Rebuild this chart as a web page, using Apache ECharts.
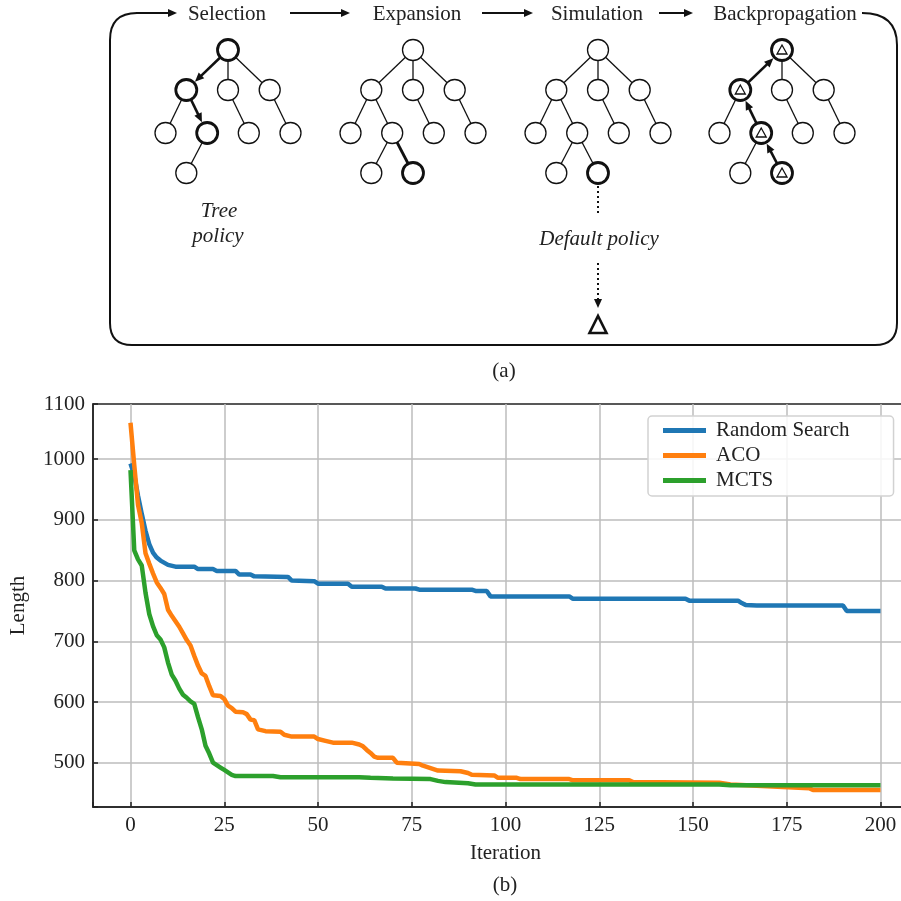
<!DOCTYPE html>
<html>
<head>
<meta charset="utf-8">
<script src="https://cdn.jsdelivr.net/npm/echarts@6/dist/echarts.min.js"></script>
<style>
  html, body { margin: 0; background: #fff; }
  #chart { width: 901px; height: 901px; }
</style>
</head>
<body>
<div id="chart"></div>
<script>
// best tour length found so far, as [iteration, length]
const randomSearch = [
  [0, 993], [1, 974], [2, 940], [3, 910], [4, 882], [5, 860], [6, 846], [7, 838], [8, 833],
  [10, 826], [12, 823], [17, 823], [18, 819], [22, 819], [23, 816], [28, 816], [29, 810],
  [32, 810], [33, 807], [42, 806], [43, 800], [49, 799], [50, 795], [58, 795], [59, 790],
  [67, 790], [68, 787], [76, 787], [77, 785], [91, 785], [92, 783], [95, 783], [96, 774],
  [117, 774], [118, 770], [148, 770], [149, 767], [162, 767], [163, 763], [164, 760],
  [167, 759], [190, 759], [191, 750], [200, 750]
];
const aco = [
  [0, 1060], [1, 990], [2, 925], [3, 895], [4, 845], [5, 828], [6, 812], [7, 797], [8, 788],
  [9, 778], [10, 752], [11, 742], [12, 733], [13, 724], [14, 713], [15, 702], [16, 693],
  [17, 676], [18, 660], [19, 647], [20, 643], [21, 626], [22, 611], [24, 610], [25, 605],
  [26, 594], [27, 590], [28, 584], [30, 583], [31, 580], [32, 571], [33, 570], [34, 555],
  [36, 552], [40, 551], [41, 546], [43, 543], [49, 543], [50, 539], [52, 536], [54, 533],
  [59, 533], [61, 530], [62, 527], [63, 521], [64, 516], [65, 510], [66, 508], [70, 508],
  [71, 500], [77, 498], [78, 495], [80, 491], [82, 487], [88, 486], [90, 483], [91, 480],
  [97, 479], [98, 475], [103, 475], [104, 473], [117, 473], [118, 471], [133, 471],
  [134, 468], [157, 467], [160, 464], [174, 460], [181, 458], [182, 455], [200, 455]
];
const mcts = [
  [0, 982], [1, 850], [2, 835], [3, 825], [4, 780], [5, 745], [6, 725], [7, 710], [8, 703],
  [9, 690], [10, 665], [11, 645], [12, 635], [13, 622], [14, 612], [15, 607], [16, 601],
  [17, 597], [18, 575], [19, 555], [20, 528], [21, 515], [22, 500], [23, 496], [24, 492],
  [25, 488], [26, 484], [27, 480], [28, 478], [38, 478], [40, 476], [61, 476], [64, 475],
  [70, 474], [80, 473], [82, 470], [84, 468], [90, 466], [92, 464], [157, 464], [160, 463],
  [200, 463]
];
const seriesNames = ['Random Search', 'ACO', 'MCTS'];
const seriesColors = ['#1f77b4', '#ff7f0e', '#2ca02c'];
const stageNames = ['Selection', 'Expansion', 'Simulation', 'Backpropagation'];

const FONT = '"Liberation Serif", "Times New Roman", serif';
const INK = '#111';
const R = 10.5;

// ---- panel (a): MCTS diagram ----
// node offsets relative to the tree root x, and absolute y
const nodeOffsets = [[0, 50], [-41.7, 90], [0, 90], [41.7, 90], [-62.5, 133], [-20.8, 133],
  [20.8, 133], [62.5, 133], [-41.7, 173], [0, 173]];
const treeEdges = [[0, 1], [0, 2], [0, 3], [1, 4], [1, 5], [2, 6], [3, 7], [5, 8], [5, 9]];
const stages = [
  { labelX: 227, rootX: 228, nodes: 9, bold: [0, 1, 5], arrows: [[0, 1], [1, 5]], thick: [] },
  { labelX: 417, rootX: 413, nodes: 10, bold: [9], arrows: [], thick: [[5, 9]] },
  { labelX: 597, rootX: 598, nodes: 10, bold: [9], arrows: [], thick: [] },
  { labelX: 785, rootX: 782, nodes: 10, bold: [0, 1, 5, 9], arrows: [[9, 5], [5, 1], [1, 0]], thick: [], marks: true }
];

function line(x1, y1, x2, y2, w, dash) {
  return { type: 'line', silent: true, shape: { x1, y1, x2, y2 },
    style: { stroke: INK, lineWidth: w, lineDash: dash || null } };
}
function head(tx, ty, ux, uy, len, half) {
  const bx = tx - ux * len, by = ty - uy * len;
  return { type: 'polygon', silent: true,
    shape: { points: [[tx, ty], [bx - uy * half, by + ux * half], [bx + uy * half, by - ux * half]] },
    style: { fill: INK } };
}
function arrow(x1, y1, x2, y2, w, dash) {
  const dx = x2 - x1, dy = y2 - y1, d = Math.hypot(dx, dy), ux = dx / d, uy = dy / d;
  return [line(x1, y1, x2 - ux * 7, y2 - uy * 7, w, dash), head(x2, y2, ux, uy, 9, 4)];
}
function text(str, x, y, italic) {
  return { type: 'text', silent: true,
    style: { text: str, x, y, fill: '#222', font: (italic ? 'italic ' : '') + '21px ' + FONT,
      textAlign: 'center', textVerticalAlign: 'middle' } };
}

const diagram = [];
stages.forEach((st, si) => {
  const pos = nodeOffsets.slice(0, st.nodes).map(p => [st.rootX + p[0], p[1]]);
  const isArrow = (a, b) => st.arrows.some(e => (e[0] === a && e[1] === b) || (e[0] === b && e[1] === a));
  const isThick = (a, b) => st.thick.some(e => e[0] === a && e[1] === b);
  const heads = [];
  treeEdges.forEach(([a, b]) => {
    if (a >= st.nodes || b >= st.nodes || isArrow(a, b)) return;
    diagram.push(line(pos[a][0], pos[a][1], pos[b][0], pos[b][1], isThick(a, b) ? 2.8 : 1.3));
  });
  st.arrows.forEach(([a, b]) => {
    const dx = pos[b][0] - pos[a][0], dy = pos[b][1] - pos[a][1], d = Math.hypot(dx, dy);
    const tx = pos[b][0] - dx / d * (R + 1.5), ty = pos[b][1] - dy / d * (R + 1.5);
    const parts = arrow(pos[a][0], pos[a][1], tx, ty, 2.6);
    diagram.push(parts[0]);
    heads.push(parts[1]);
  });
  pos.forEach((p, i) => {
    const bold = st.bold.indexOf(i) >= 0;
    diagram.push({ type: 'circle', silent: true, shape: { cx: p[0], cy: p[1], r: R },
      style: { fill: '#fff', stroke: INK, lineWidth: bold ? 2.8 : 1.3 } });
    if (st.marks && bold) {
      diagram.push({ type: 'polygon', silent: true,
        shape: { points: [[p[0] - 5, p[1] + 4], [p[0] + 5, p[1] + 4], [p[0], p[1] - 5]] },
        style: { fill: 'none', stroke: INK, lineWidth: 1.3 } });
    }
  });
  diagram.push(...heads);
  diagram.push(text(stageNames[si], st.labelX, 14));
});

// arrows between stage names
diagram.push(...arrow(290, 13, 350, 13, 2));
diagram.push(...arrow(482, 13, 533, 13, 2));
diagram.push(...arrow(659, 13, 693, 13, 2));

// loop frame
diagram.push({ type: 'bezierCurve', silent: true,
  shape: { x1: 862, y1: 13, cpx1: 884, cpy1: 13, cpx2: 897, cpy2: 23, x2: 897, y2: 45 },
  style: { stroke: INK, lineWidth: 2, fill: 'none' } });
diagram.push(line(897, 45, 897, 323, 2));
diagram.push({ type: 'bezierCurve', silent: true,
  shape: { x1: 897, y1: 323, cpx1: 897, cpy1: 345, x2: 875, y2: 345 },
  style: { stroke: INK, lineWidth: 2, fill: 'none' } });
diagram.push(line(875, 345, 132, 345, 2));
diagram.push({ type: 'bezierCurve', silent: true,
  shape: { x1: 132, y1: 345, cpx1: 110, cpy1: 345, x2: 110, y2: 323 },
  style: { stroke: INK, lineWidth: 2, fill: 'none' } });
diagram.push(line(110, 323, 110, 40, 2));
diagram.push({ type: 'bezierCurve', silent: true,
  shape: { x1: 110, y1: 40, cpx1: 110, cpy1: 13, x2: 137, y2: 13 },
  style: { stroke: INK, lineWidth: 2, fill: 'none' } });
diagram.push(...arrow(136, 13, 177, 13, 2));

// policy labels and rollout
diagram.push(text('Tree', 219, 211, true));
diagram.push(text('policy', 218, 236, true));
diagram.push(line(598, 186, 598, 215, 2, [2, 3]));
diagram.push(text('Default policy', 599, 239, true));
diagram.push(...arrow(598, 263, 598, 308, 2, [2, 3]));
diagram.push({ type: 'polygon', silent: true,
  shape: { points: [[589.5, 333], [606.5, 333], [598, 316]] },
  style: { fill: '#fff', stroke: INK, lineWidth: 2.6 } });

diagram.push(text('(a)', 504, 371));
diagram.push(text('(b)', 505, 885));

// ---- panel (b): convergence chart ----
const chart = echarts.init(document.getElementById('chart'));
const axisFont = { fontFamily: FONT, fontSize: 21, color: '#222' };

chart.setOption({
  animation: false,
  backgroundColor: '#fff',
  graphic: { elements: diagram },
  grid: {
    left: 93, right: -17, top: 404, bottom: 94,
    containLabel: false, outerBoundsMode: 'none',
    show: true, borderColor: '#222', borderWidth: 1.5
  },
  legend: {
    data: seriesNames,
    orient: 'vertical',
    left: 648, top: 416,
    icon: 'rect',
    itemWidth: 43, itemHeight: 5, itemGap: 4,
    padding: [4, 44, 5, 15],
    backgroundColor: 'rgba(255,255,255,0.85)',
    borderColor: '#d2d2d2', borderWidth: 1.5, borderRadius: 4,
    textStyle: { fontFamily: FONT, fontSize: 21, color: '#222', padding: [0, 0, 0, 5] }
  },
  xAxis: {
    type: 'value', min: -10, max: 210, minInterval: 25, maxInterval: 25,
    name: 'Iteration', nameLocation: 'middle', nameGap: 36,
    nameTextStyle: axisFont,
    axisLine: { onZero: false, lineStyle: { color: '#222', width: 1.5 } },
    axisTick: { inside: true, length: 5, lineStyle: { color: '#222', width: 1.5 } },
    axisLabel: Object.assign({ margin: 8, formatter: v => (v % 25 === 0 ? String(v) : '') }, axisFont),
    splitLine: { show: true, showMinLine: false, showMaxLine: false, lineStyle: { color: '#bdbdbd', width: 1.5 } }
  },
  yAxis: {
    type: 'value', min: 427, max: 1091, minInterval: 100, maxInterval: 100,
    name: 'Length', nameLocation: 'middle', nameGap: 64,
    nameTextStyle: axisFont,
    axisLine: { show: true, onZero: false, lineStyle: { color: '#222', width: 1.5 } },
    axisTick: { show: true, inside: true, length: 5, lineStyle: { color: '#222', width: 1.5 } },
    axisLabel: Object.assign({ margin: 8,
      formatter: v => (v % 100 === 0 ? String(v) : (v > 1050 ? '1100' : '')) }, axisFont),
    splitLine: { show: true, showMinLine: false, showMaxLine: false, lineStyle: { color: '#bdbdbd', width: 1.5 } }
  },
  series: [randomSearch, aco, mcts].map((d, i) => ({
    name: seriesNames[i],
    type: 'line',
    data: d,
    showSymbol: false,
    color: seriesColors[i],
    lineStyle: { width: 4.5, color: seriesColors[i] },
    z: 2 + i
  }))
});
</script>
</body>
</html>
